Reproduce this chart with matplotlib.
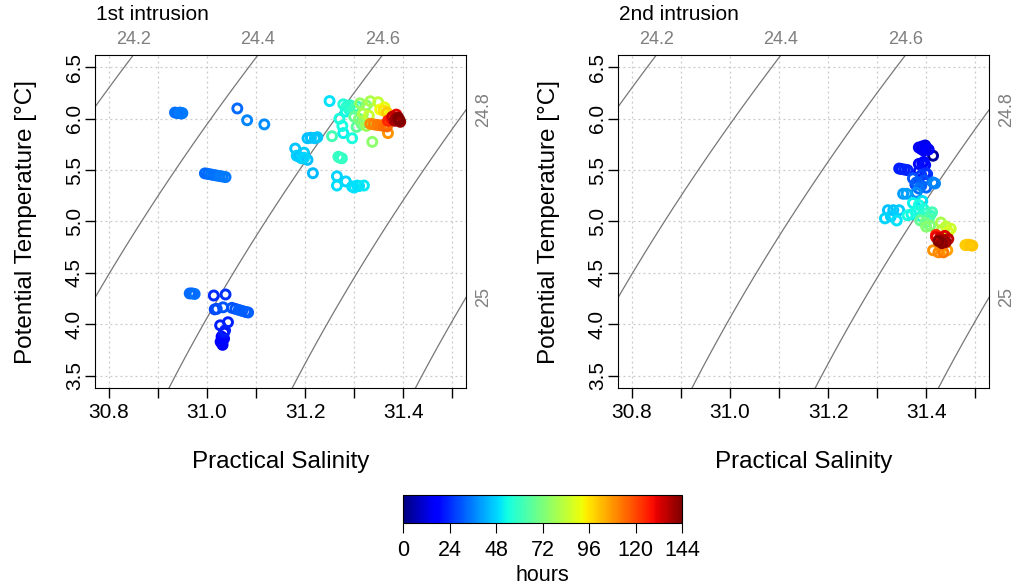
import numpy as np
import matplotlib.pyplot as plt
from matplotlib.colors import Normalize
from matplotlib.cm import ScalarMappable

plt.rcParams['font.family'] = ['Liberation Sans', 'DejaVu Sans']

# ---- 1st intrusion: salinity, potential temperature, hours ----
s1 = [30.935, 30.940, 30.945, 30.950, 30.948,
      31.062, 31.082, 31.117,
      30.996, 31.002, 31.008, 31.014, 31.020, 31.026, 31.032, 31.038,
      30.965, 30.970, 30.975,
      31.014, 31.038, 31.016, 31.020, 31.033,
      31.051, 31.058, 31.065, 31.072, 31.079, 31.084,
      31.027, 31.043, 31.037, 31.035,
      31.030, 31.032, 31.030, 31.032, 31.028, 31.035,
      31.250, 31.278, 31.285, 31.292, 31.300, 31.306, 31.290, 31.283,
      31.312, 31.333, 31.349, 31.325,
      31.353, 31.360, 31.367, 31.362,
      31.385, 31.390, 31.383, 31.392, 31.378, 31.386, 31.394,
      31.369, 31.375,
      31.333, 31.340, 31.347, 31.354, 31.361, 31.367,
      31.369,
      31.300, 31.310, 31.320, 31.315, 31.325, 31.305, 31.318, 31.330,
      31.270, 31.276, 31.278, 31.296, 31.255, 31.337,
      31.205, 31.212, 31.220, 31.225,
      31.180, 31.198, 31.183, 31.198, 31.188, 31.193, 31.205,
      31.216,
      31.271, 31.275, 31.268,
      31.265, 31.265, 31.283, 31.306, 31.300, 31.310, 31.320, 31.296]
t1 = [6.060, 6.055, 6.060, 6.055, 6.050,
      6.100, 5.985, 5.945,
      5.468, 5.463, 5.458, 5.452, 5.447, 5.442, 5.437, 5.432,
      4.300, 4.300, 4.295,
      4.280, 4.290, 4.145, 4.150, 4.165,
      4.160, 4.150, 4.140, 4.130, 4.120, 4.115,
      3.990, 4.020, 3.940, 3.920,
      3.880, 3.850, 3.820, 3.800, 3.830, 3.860,
      6.172, 6.140, 6.120, 6.130, 6.100, 6.120, 6.090, 6.070,
      6.150, 6.170, 6.160, 6.130,
      6.090, 6.080, 6.060, 6.110,
      6.000, 6.010, 5.980, 5.990, 6.020, 6.040, 5.970,
      5.980, 6.000,
      5.950, 5.945, 5.940, 5.935, 5.930, 5.925,
      5.860,
      6.020, 6.000, 5.980, 5.950, 5.930, 5.920, 6.050, 6.030,
      6.000, 5.930, 5.860, 5.810, 5.830, 5.775,
      5.810, 5.815, 5.810, 5.820,
      5.710, 5.670, 5.640, 5.620, 5.630, 5.615, 5.600,
      5.470,
      5.620, 5.615, 5.630,
      5.440, 5.350, 5.390, 5.350, 5.330, 5.345, 5.350, 5.340]
h1 = [34, 34, 35, 35, 34,
      33, 37, 38,
      33, 33, 34, 34, 34, 35, 35, 35,
      33, 33, 34,
      24, 25, 28, 29, 30,
      30, 30, 31, 31, 31, 31,
      22, 23, 22, 21,
      18, 17, 16, 15, 17, 19,
      50, 56, 57, 58, 60, 62, 55, 53,
      76, 80, 84, 74,
      92, 96, 100, 90,
      140, 143, 138, 144, 135, 132, 141,
      125, 128,
      110, 111, 112, 113, 114, 115,
      108,
      68, 72, 75, 70, 78, 66, 80, 85,
      55, 54, 52, 55, 62, 75,
      45, 45, 46, 46,
      46, 47, 47, 48, 46, 47, 45,
      44,
      60, 58, 59,
      48, 49, 48, 50, 50, 50, 51, 49]

# ---- 2nd intrusion ----
s2 = [31.385, 31.392, 31.400, 31.405, 31.395, 31.390, 31.398,
      31.414,
      31.345, 31.350, 31.356, 31.362,
      31.385, 31.392, 31.398, 31.395,
      31.398, 31.402, 31.390, 31.385,
      31.373, 31.380, 31.390, 31.400, 31.385, 31.395, 31.378,
      31.414, 31.418,
      31.380, 31.353, 31.360,
      31.333, 31.345, 31.322, 31.316, 31.340, 31.328,
      31.373, 31.385, 31.395, 31.400, 31.408, 31.380, 31.390, 31.370, 31.362, 31.392,
      31.412, 31.405,
      31.388, 31.398, 31.408, 31.400,
      31.430, 31.440, 31.450, 31.445, 31.432,
      31.420, 31.428, 31.435, 31.440, 31.432, 31.445, 31.425, 31.438,
      31.420,
      31.414, 31.425, 31.435, 31.443, 31.430,
      31.480, 31.485, 31.490, 31.494]
t2 = [5.720, 5.730, 5.720, 5.700, 5.690, 5.705, 5.740,
      5.640,
      5.515, 5.510, 5.505, 5.500,
      5.560, 5.565, 5.550, 5.580,
      5.470, 5.460, 5.450, 5.490,
      5.420, 5.380, 5.350, 5.330, 5.320, 5.400, 5.360,
      5.380, 5.370,
      5.280, 5.270, 5.270,
      5.110, 5.110, 5.110, 5.030, 5.010, 5.050,
      5.180, 5.160, 5.120, 5.080, 5.060, 5.100, 5.050, 5.070, 5.060, 5.200,
      5.090, 5.030,
      5.010, 4.990, 4.960, 4.950,
      4.990, 4.950, 4.930, 4.900, 4.920,
      4.850, 4.840, 4.820, 4.800, 4.790, 4.830, 4.810, 4.860,
      4.870,
      4.720, 4.700, 4.700, 4.720, 4.740,
      4.770, 4.775, 4.770, 4.765]
h2 = [15, 14, 13, 16, 15, 14, 12,
      4,
      22, 22, 23, 23,
      19, 18, 20, 18,
      24, 25, 26, 20,
      30, 31, 32, 33, 34, 29, 28,
      36, 37,
      38, 40, 41,
      46, 47, 45, 48, 50, 47,
      52, 54, 56, 58, 60, 55, 57, 53, 54, 50,
      62, 64,
      68, 70, 72, 74,
      80, 84, 86, 88, 82,
      130, 134, 138, 140, 142, 136, 144, 132,
      124,
      108, 110, 112, 106, 104,
      100, 100, 101, 101]

titles = ['1st intrusion', '2nd intrusion']
sig_levels = [24.2, 24.4, 24.6, 24.8, 25.0]
x_ticks = [30.8, 30.9, 31.0, 31.1, 31.2, 31.3, 31.4, 31.5]
y_ticks = [3.5, 4.0, 4.5, 5.0, 5.5, 6.0, 6.5]
cb_ticks = [0, 24, 48, 72, 96, 120, 144]


def sigma0(S, T):
    # UNESCO EOS-80 density at p = 0, minus 1000
    rw = (999.842594 + 6.793952e-2 * T - 9.095290e-3 * T**2 + 1.001685e-4 * T**3
          - 1.120083e-6 * T**4 + 6.536332e-9 * T**5)
    A = 8.24493e-1 - 4.0899e-3 * T + 7.6438e-5 * T**2 - 8.2467e-7 * T**3 + 5.3875e-9 * T**4
    B = -5.72466e-3 + 1.0227e-4 * T - 1.6546e-6 * T**2
    C = 4.8314e-4
    return rw + A * S + B * S**1.5 + C * S**2 - 1000.0


xlim = (30.772, 31.528)
ylim = (3.38, 6.62)
cmap = plt.get_cmap('jet')
norm = Normalize(0, 144)
gray = '#7f7f7f'

fig = plt.figure(figsize=(10.21, 5.88), dpi=100)
lefts = [95 / 1021, 618 / 1021]
datasets = [(s1, t1, h1), (s2, t2, h2)]

SS, TT = np.meshgrid(np.linspace(30.6, 31.7, 300), np.linspace(3.2, 6.8, 300))
SIG = sigma0(SS, TT)

for k in range(2):
    ax = fig.add_axes([lefts[k], 1 - 388 / 588, 371 / 1021, 333 / 588])
    s, t, h = datasets[k]
    ax.set_xlim(xlim)
    ax.set_ylim(ylim)
    ax.set_xticks(x_ticks)
    ax.set_xticklabels(['%.1f' % v if i % 2 == 0 else '' for i, v in enumerate(x_ticks)])
    ax.set_yticks(y_ticks)
    ax.set_yticklabels(['%.1f' % v for v in y_ticks], rotation=90, va='center')
    ax.tick_params(direction='out', length=7, width=1, labelsize=15)
    ax.tick_params(axis='x', pad=4)
    ax.tick_params(axis='y', pad=1)
    ax.grid(True, color='#c8c8c8', linestyle=(0, (1.5, 2.5)), linewidth=0.9)
    ax.set_axisbelow(True)

    ax.contour(SS, TT, SIG, levels=sig_levels, colors='#777777', linewidths=0.9)

    order = np.argsort(h, kind='stable')
    s_o = np.array(s)[order]
    t_o = np.array(t)[order]
    h_o = np.array(h)[order]
    ax.scatter(s_o, t_o, s=42, facecolors='none', edgecolors=cmap(norm(h_o)),
               linewidths=2.1, zorder=3)

    ax.set_xlabel('Practical Salinity', fontsize=17.5, labelpad=21)
    ax.set_ylabel('Potential Temperature [\u00b0C]', fontsize=17.5, labelpad=20)

    # isopycnal labels on top / right margins
    sg = np.linspace(xlim[0], xlim[1], 2000)
    tg = np.linspace(ylim[0], ylim[1], 2000)
    top_sig = sigma0(sg, ylim[1])
    right_sig = sigma0(xlim[1], tg)
    for lev in sig_levels:
        lab = '%g' % lev
        if top_sig.min() <= lev <= top_sig.max():
            sx = np.interp(lev, top_sig, sg)
            ax.annotate(lab, xy=(sx, 1), xycoords=ax.get_xaxis_transform(),
                        xytext=(0, 11), textcoords='offset points',
                        ha='center', va='center', color=gray, fontsize=13)
        else:
            ty = np.interp(lev, right_sig[::-1], tg[::-1])
            ax.annotate(lab, xy=(1, ty), xycoords=ax.get_yaxis_transform(),
                        xytext=(12.5, 0), textcoords='offset points', rotation=90,
                        ha='center', va='center', color=gray, fontsize=13)

    ax.annotate(titles[k], xy=(0, 1), xycoords='axes fraction', xytext=(1, 29),
                textcoords='offset points', ha='left', va='center', fontsize=15)

cax = fig.add_axes([403 / 1021, 1 - 523 / 588, 279 / 1021, 28 / 588])
cb = fig.colorbar(ScalarMappable(norm=norm, cmap=cmap), cax=cax,
                  orientation='horizontal', ticks=cb_ticks)
cb.ax.tick_params(direction='out', length=7, labelsize=15.5, pad=5)
cb.set_label('hours', fontsize=15.5, labelpad=3)

fig.savefig('out.png', dpi=100)
